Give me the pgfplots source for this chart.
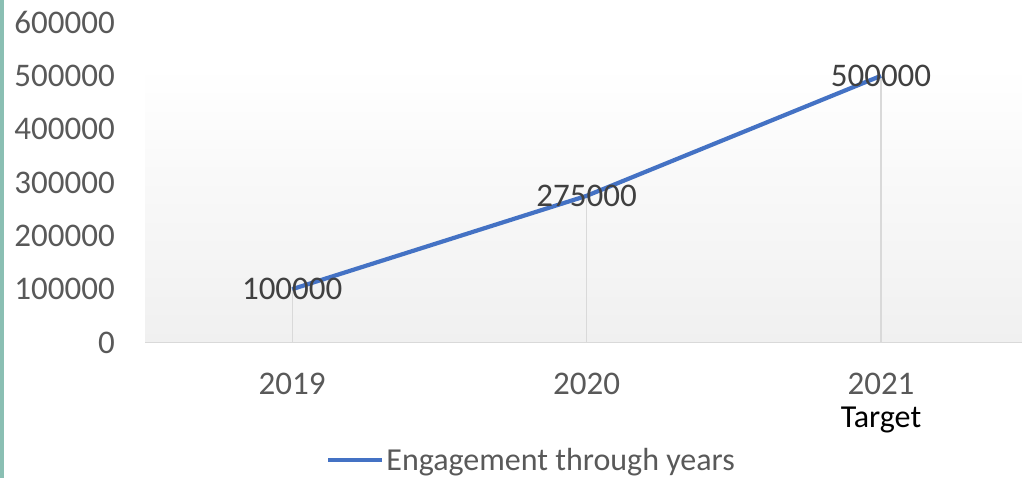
\documentclass[border=0pt]{standalone}
\usepackage{pgfplots}
\pgfplotsset{compat=1.18}
\usepackage{pgfplotstable}
\usepackage{fontspec}
\setmainfont{Carlito}
\definecolor{ln}{HTML}{4472C4}
\definecolor{tk}{HTML}{595959}
\definecolor{dl}{HTML}{404040}
\definecolor{gl}{HTML}{D9D9D9}
\definecolor{teal1}{HTML}{8ABFB3}
\definecolor{bgb}{HTML}{F0F0F0}
\pgfplotstableread{
x y label
0 100000 100000
1 275000 275000
2 500000 500000
}\engdata
\begin{document}
\begin{tikzpicture}
\useasboundingbox (0pt,0pt) rectangle (1022pt,478pt);
\fill[teal1] (0pt,0pt) rectangle (3.5pt,478pt);
\begin{axis}[
  at={(145pt,135.5pt)}, anchor=south west,
  scale only axis, width=877pt, height=320pt,
  xmin=-0.5, xmax=2.479, ymin=0, ymax=600000,
  axis on top,
  scaled y ticks=false,
  xtick={0,1,2},
  xticklabels={2019,2020,{2021\\\textcolor{black}{\fontsize{32}{33}\selectfont Target}}},
  ytick={0,100000,200000,300000,400000,500000,600000},
  yticklabels={0,100000,200000,300000,400000,500000,600000},
  axis x line*=bottom, axis y line*=left,
  y axis line style={draw=none},
  x axis line style={gl, line width=1.5pt},
  major tick length=0pt,
  xticklabel style={anchor=north, inner sep=0pt, yshift=-30pt, align=center, text=tk, font=\fontsize{33}{33}\selectfont},
  yticklabel style={anchor=east, inner sep=0pt, xshift=-30pt, text=tk, font=\fontsize{33}{33}\selectfont},
  legend style={at={(rel axis cs:0.2064,-0.367)}, anchor=west, draw=none, fill=none, inner sep=0pt,
    font=\fontsize{32}{32}\selectfont, text=tk},
  legend cell align=left,
  legend image code/.code={\draw[#1] (0pt,0pt) -- (54pt,0pt);},
]
\fill[top color=white, bottom color=bgb] (axis cs:-0.5,0) rectangle (axis cs:2.479,520000);
\addlegendimage{ln, line width=4.2pt}
\addlegendentry{Engagement through years}
\addplot[ycomb, draw=gl, line width=1.2pt, forget plot] table[x=x, y=y] {\engdata};
\addplot[ln, line width=4.2pt, forget plot,
  point meta=explicit symbolic, nodes near coords,
  every node near coord/.append style={anchor=center, text=dl, font=\fontsize{33}{33}\selectfont}]
  table[x=x, y=y, meta=label] {\engdata};
\end{axis}
\end{tikzpicture}
\end{document}
